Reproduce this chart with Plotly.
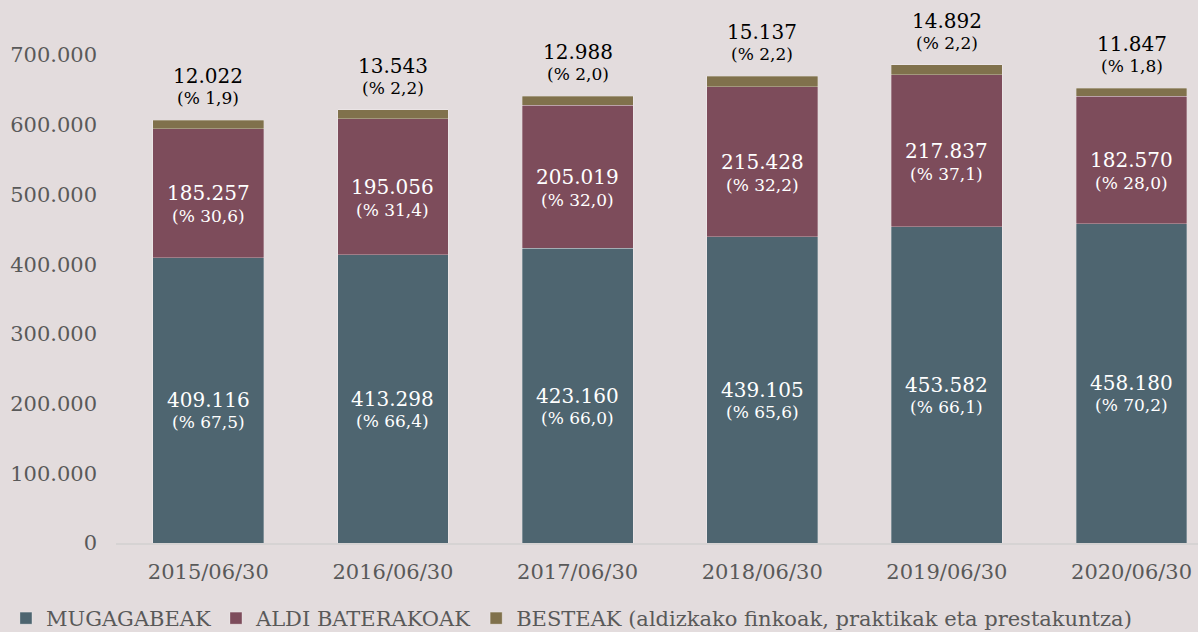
import plotly.graph_objects as go

categories = ["2015/06/30", "2016/06/30", "2017/06/30", "2018/06/30", "2019/06/30", "2020/06/30"]
mugagabeak = [409116, 413298, 423160, 439105, 453582, 458180]
aldi = [185257, 195056, 205019, 215428, 217837, 182570]
besteak = [12022, 13543, 12988, 15137, 14892, 11847]
pct_mug = ["67,5", "66,4", "66,0", "65,6", "66,1", "70,2"]
pct_aldi = ["30,6", "31,4", "32,0", "32,2", "37,1", "28,0"]
pct_best = ["1,9", "2,2", "2,0", "2,2", "2,2", "1,8"]
y_ticks = [0, 100000, 200000, 300000, 400000, 500000, 600000, 700000]
y_tick_labels = ["0", "100.000", "200.000", "300.000", "400.000", "500.000", "600.000", "700.000"]

FONT = "DejaVu Serif"
C_MUG = "#4e6570"
C_ALDI = "#7d4c5b"
C_BEST = "#80714c"
BG = "#e3dcdd"


def fmt(v):
    return f"{v:,}".replace(",", ".")


fig = go.Figure()
line = dict(color="rgba(255,255,255,0.35)", width=0.8)
fig.add_trace(go.Bar(name="MUGAGABEAK", x=categories, y=mugagabeak, marker=dict(color=C_MUG, line=line)))
fig.add_trace(go.Bar(name="ALDI BATERAKOAK", x=categories, y=aldi, marker=dict(color=C_ALDI, line=line)))
fig.add_trace(go.Bar(name="BESTEAK (aldizkako finkoak, praktikak eta prestakuntza)", x=categories, y=besteak,
                     marker=dict(color=C_BEST, line=line)))

ann = []
for i, c in enumerate(categories):
    m_mid = mugagabeak[i] / 2
    a_mid = mugagabeak[i] + aldi[i] / 2
    top = mugagabeak[i] + aldi[i] + besteak[i]
    ann.append(dict(x=c, y=m_mid, text=fmt(mugagabeak[i]), showarrow=False, yanchor="middle",
                    font=dict(family=FONT, size=20, color="white")))
    ann.append(dict(x=c, y=m_mid, text=f"(% {pct_mug[i]})", showarrow=False, yanchor="middle", yshift=-22,
                    font=dict(family=FONT, size=17, color="white")))
    ann.append(dict(x=c, y=a_mid, text=fmt(aldi[i]), showarrow=False, yanchor="middle",
                    font=dict(family=FONT, size=20, color="white")))
    ann.append(dict(x=c, y=a_mid, text=f"(% {pct_aldi[i]})", showarrow=False, yanchor="middle", yshift=-23,
                    font=dict(family=FONT, size=17, color="white")))
    ann.append(dict(x=c, y=top, text=fmt(besteak[i]), showarrow=False, yanchor="middle", yshift=44,
                    font=dict(family=FONT, size=20, color="black")))
    ann.append(dict(x=c, y=top, text=f"(% {pct_best[i]})", showarrow=False, yanchor="middle", yshift=22,
                    font=dict(family=FONT, size=17, color="black")))

fig.update_layout(
    barmode="stack",
    bargap=0.4,
    width=1198, height=632,
    paper_bgcolor=BG, plot_bgcolor=BG,
    margin=dict(l=116, r=0, t=0, b=89, autoexpand=False),
    font=dict(family=FONT, size=21, color="#595959"),
    annotations=ann,
    showlegend=True,
    legend=dict(orientation="h", xref="paper", yref="paper", x=-0.1017, y=-0.139,
                xanchor="left", yanchor="middle", font=dict(family=FONT, size=21, color="#595959"),
                traceorder="normal", bgcolor="rgba(0,0,0,0)", itemwidth=30, tracegroupgap=0),
    xaxis=dict(range=[-0.5, 5.36], showgrid=False, zeroline=False, showline=True, linecolor="#d6d3d3",
               linewidth=1.5, ticks="", ticklabelstandoff=9, tickfont=dict(size=21, color="#595959")),
    yaxis=dict(range=[0, 779000], tickvals=y_ticks, ticktext=y_tick_labels, showgrid=False, zeroline=False,
               showline=False, ticks="", ticklabelstandoff=18, tickfont=dict(size=21, color="#595959")),
)

fig.write_html("out.html", config={"displayModeBar": False},
               post_script="document.body.style.margin='0';document.body.style.overflow='hidden';")
